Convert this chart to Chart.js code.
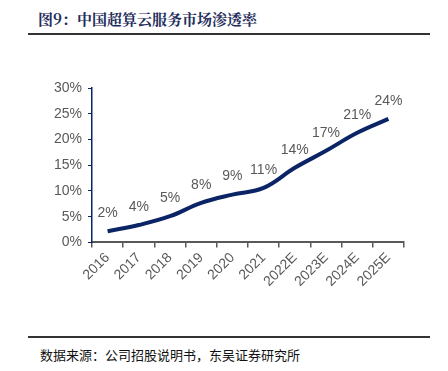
<!DOCTYPE html>
<html>
<head>
<meta charset="utf-8">
<script src="https://cdn.jsdelivr.net/npm/chart.js@4"></script>
<style>
  html,body{margin:0;padding:0;background:#fff;width:448px;height:371px;overflow:hidden;position:relative;}
  #title{position:absolute;left:38px;top:8px;font-family:"Noto Serif CJK SC","Noto Sans CJK SC",serif;font-weight:bold;font-size:15px;color:#1f2d5c;white-space:nowrap;}
  #rule1{position:absolute;left:28px;top:33px;width:402px;height:2px;background:#333;}
  #rule2{position:absolute;left:28px;top:336px;width:402px;height:2px;background:#333;}
  #src{position:absolute;left:40px;top:345px;font-family:"Noto Sans CJK SC",sans-serif;font-size:13px;color:#111;white-space:nowrap;}
  #wrap{position:absolute;left:0;top:40px;width:448px;height:252px;}
</style>
</head>
<body>
<div id="title">图9：中国超算云服务市场渗透率</div>
<div id="rule1"></div>
<div id="wrap"><canvas id="c"></canvas></div>
<div id="rule2"></div>
<div id="src">数据来源：公司招股说明书，东吴证券研究所</div>
<script>
const categories = ["2016","2017","2018","2019","2020","2021","2022E","2023E","2024E","2025E"];
const penetration = [2.2, 3.4, 5.1, 7.7, 9.3, 10.6, 14.5, 17.8, 21.3, 24.0];
const pointLabels = ["2%","4%","5%","8%","9%","11%","14%","17%","21%","24%"];
const yTicks = [0, 5, 10, 15, 20, 25, 30];

const labelPlugin = {
  id: 'pointLabels',
  afterDatasetsDraw(chart) {
    const ctx = chart.ctx;
    const meta = chart.getDatasetMeta(0);
    ctx.save();
    ctx.font = '14px "Liberation Sans", Arial, sans-serif';
    ctx.fillStyle = '#595959';
    ctx.textAlign = 'center';
    ctx.textBaseline = 'middle';
    meta.data.forEach((pt, i) => {
      ctx.fillText(pointLabels[i], pt.x, pt.y - 18);
    });
    ctx.restore();
  }
};

new Chart(document.getElementById('c'), {
  type: 'line',
  data: {
    labels: categories,
    datasets: [{
      data: penetration,
      borderColor: '#0b2466',
      borderWidth: 4,
      pointRadius: 0,
      tension: 0.4,
      fill: false
    }]
  },
  options: {
    responsive: true,
    maintainAspectRatio: false,
    animation: false,
    layout: { padding: { top: 48, right: 44, left: 48, bottom: 0 } },
    plugins: { legend: { display: false }, tooltip: { enabled: false } },
    scales: {
      x: {
        offset: true,
        grid: { offset: true, drawOnChartArea: false, drawTicks: true, tickLength: 5, color: '#595959', lineWidth: 1.5 },
        border: { color: '#595959', width: 2 },
        ticks: {
          minRotation: 45, maxRotation: 45, padding: 2,
          color: '#595959',
          font: { family: '"Liberation Sans", Arial, sans-serif', size: 14 }
        }
      },
      y: {
        min: 0, max: 30,
        afterBuildTicks(axis) { axis.ticks = yTicks.map(v => ({ value: v })); },
        grid: { drawOnChartArea: false, drawTicks: true, tickLength: 4, color: '#0b2466' },
        border: { color: '#0b2466', width: 1.5 },
        ticks: {
          padding: 6,
          color: '#595959',
          font: { family: '"Liberation Sans", Arial, sans-serif', size: 14 },
          callback: v => v + '%'
        }
      }
    }
  },
  plugins: [labelPlugin]
});
</script>
</body>
</html>
